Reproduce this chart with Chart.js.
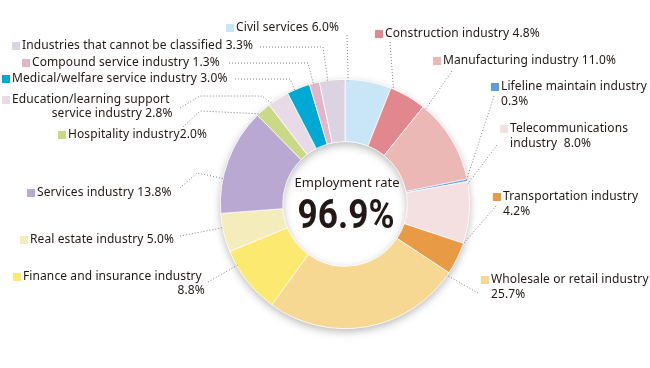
<!DOCTYPE html>
<html>
<head>
<meta charset="utf-8">
<script src="https://cdn.jsdelivr.net/npm/chart.js@4.4.1/dist/chart.umd.min.js"></script>
<style>
  html, body { margin: 0; padding: 0; background: #fff; }
  #wrap { width: 650px; height: 368px; }
</style>
</head>
<body>
<div id="wrap"><canvas id="employmentChart" width="650" height="368"></canvas></div>
<script>
// Employment by industry (%), clockwise from 12 o'clock
const categories = [
  "Civil services", "Construction industry", "Manufacturing industry",
  "Lifeline maintain industry", "Telecommunications industry", "Transportation industry",
  "Wholesale or retail industry", "Finance and insurance industry", "Real estate industry",
  "Services industry", "Hospitality industry", "Education/learning support service industry",
  "Medical/welfare service industry", "Compound service industry",
  "Industries that cannot be classified"
];
const shares = [6.0, 4.8, 11.0, 0.3, 8.0, 4.2, 25.7, 8.8, 5.0, 13.8, 2.0, 2.8, 3.0, 1.3, 3.3];
const sliceColors = [
  "#c8e6f6", "#e3878f", "#ecb8b5", "#5c9fd8", "#f4e0e1", "#e89a45",
  "#f6d893", "#fbe970", "#f5ecbc", "#b8a8d2", "#c9d985", "#e8dbe7",
  "#00a9d3", "#e2b5c9", "#dcd3e2"
];
// label text as printed (one entry per line)
const labelLines = [
  ["Civil services 6.0%"],
  ["Construction industry 4.8%"],
  ["Manufacturing industry 11.0%"],
  ["Lifeline maintain industry", "0.3%"],
  ["Telecommunications", "industry  8.0%"],
  ["Transportation industry", "4.2%"],
  ["Wholesale or retail industry", "25.7%"],
  ["Finance and insurance industry", "8.8%"],
  ["Real estate industry 5.0%"],
  ["Services industry 13.8%"],
  ["Hospitality industry2.0%"],
  ["Education/learning support", "service industry 2.8%"],
  ["Medical/welfare service industry 3.0%"],
  ["Compound service industry 1.3%"],
  ["Industries that cannot be classified 3.3%"]
];
const centerTitle = "Employment rate";
const centerValue = "96.9%";

// layout of the callouts: colour square (left x, middle y), second line alignment,
// leader line points (the last one is joined to the slice edge)
const calloutLayout = [
  { sx: 226, cy: 28, leader: [[347, 35]] },
  { sx: 375, cy: 34, leader: [[390, 42]] },
  { sx: 433, cy: 61, leader: [[452, 71]] },
  { sx: 491, cy: 87, leader: [[494, 96]] },
  { sx: 500, cy: 129, leader: [[497, 145]] },
  { sx: 493, cy: 197, leader: [[496, 206]] },
  { sx: 481, cy: 280, leader: [[478, 293]] },
  { sx: 13, cy: 277, align2: "right", leader: [[208, 282]] },
  { sx: 20, cy: 240, leader: [[180, 236]] },
  { sx: 27, cy: 193, leader: [[180, 188], [197, 173]] },
  { sx: 58, cy: 135, leader: [[183, 127], [200, 111]] },
  { sx: 2, cy: 100, align2: "right", leader: [[180, 108], [200, 96], [262, 96]] },
  { sx: 2, cy: 79, leader: [[235, 79], [290, 79]] },
  { sx: 22, cy: 63, leader: [[229, 63], [308, 63]] },
  { sx: 12, cy: 46, leader: [[260, 47], [323, 47]] }
];

const textColor = "#231815";
const labelFont = '12px "Noto Sans", sans-serif';

const calloutPlugin = {
  id: "callouts",
  beforeDatasetsDraw(chart) {
    // soft shadow under the ring
    const ctx = chart.ctx;
    const arc = chart.getDatasetMeta(0).data[0];
    const p = arc.getProps(["x", "y", "outerRadius", "innerRadius"], true);
    ctx.save();
    ctx.shadowColor = "rgba(0,0,0,0.28)";
    ctx.shadowBlur = 9;
    ctx.shadowOffsetY = 3;
    ctx.fillStyle = "#fff";
    ctx.beginPath();
    ctx.arc(p.x, p.y, p.outerRadius, 0, Math.PI * 2);
    ctx.arc(p.x, p.y, p.innerRadius, 0, Math.PI * 2, true);
    ctx.fill();
    ctx.restore();
  },
  afterDatasetsDraw(chart) {
    const ctx = chart.ctx;
    const meta = chart.getDatasetMeta(0);
    ctx.save();

    meta.data.forEach((arc, i) => {
      const p = arc.getProps(["x", "y", "startAngle", "endAngle", "outerRadius"], true);
      const lay = calloutLayout[i];
      const pts = lay.leader.slice();
      const last = pts[pts.length - 1];

      // nearest point of the slice's outer edge
      let a = Math.atan2(last[1] - p.y, last[0] - p.x);
      if (a < -Math.PI / 2) a += Math.PI * 2;
      const inset = Math.min(1.5 * Math.PI / 180, (p.endAngle - p.startAngle) / 2);
      a = Math.max(p.startAngle + inset, Math.min(p.endAngle - inset, a));
      const r = p.outerRadius - 1;
      pts.push([p.x + r * Math.cos(a), p.y + r * Math.sin(a)]);

      ctx.strokeStyle = "#808080";
      ctx.lineWidth = 1;
      ctx.setLineDash([1, 2]);
      ctx.beginPath();
      ctx.moveTo(pts[0][0], pts[0][1]);
      for (let k = 1; k < pts.length; k++) ctx.lineTo(pts[k][0], pts[k][1]);
      ctx.stroke();
      ctx.setLineDash([]);

      // colour square + text
      ctx.fillStyle = sliceColors[i];
      ctx.fillRect(lay.sx, lay.cy - 4, 8, 8);
      ctx.fillStyle = textColor;
      ctx.font = labelFont;
      ctx.letterSpacing = "0.1px";
      ctx.textBaseline = "middle";
      const tx = lay.sx + 10;
      const lines = labelLines[i];
      const w1 = ctx.measureText(lines[0]).width;
      ctx.textAlign = "left";
      ctx.fillText(lines[0], tx, lay.cy);
      if (lines[1]) {
        if (lay.align2 === "right") {
          ctx.textAlign = "right";
          ctx.fillText(lines[1], tx + w1 + 3, lay.cy + 14);
        } else {
          ctx.fillText(lines[1], tx, lay.cy + 15);
        }
      }
      ctx.letterSpacing = "0px";
    });

    // centre text
    const c = meta.data[0].getProps(["x", "y"], true);
    ctx.fillStyle = textColor;
    ctx.textAlign = "center";
    ctx.textBaseline = "alphabetic";
    ctx.font = '13px "Noto Sans", sans-serif';
    ctx.fillText(centerTitle, c.x + 2, c.y - 17);
    ctx.save();
    ctx.translate(c.x + 1, c.y + 24);
    ctx.scale(0.88, 1);
    ctx.font = 'bold 40px Roboto, sans-serif';
    ctx.fillText(centerValue, 0, 0);
    ctx.restore();
    ctx.restore();
  }
};

new Chart(document.getElementById("employmentChart").getContext("2d"), {
  type: "doughnut",
  data: {
    labels: categories,
    datasets: [{
      data: shares,
      backgroundColor: sliceColors,
      borderColor: "#ffffff",
      borderWidth: 0.75
    }]
  },
  options: {
    responsive: false,
    animation: false,
    cutout: "50%",
    layout: { padding: { top: 79, bottom: 39, left: 220, right: 180 } },
    plugins: {
      legend: { display: false },
      tooltip: { enabled: false }
    }
  },
  plugins: [calloutPlugin]
});
</script>
</body>
</html>
